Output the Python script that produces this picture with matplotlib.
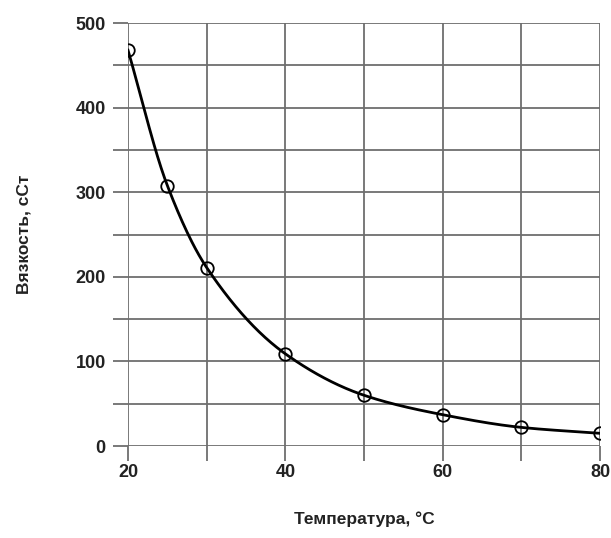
import numpy as np
import matplotlib.pyplot as plt
from matplotlib.ticker import MultipleLocator
from matplotlib import font_manager

# данные: температура и вязкость
temp = [20, 25, 30, 40, 50, 60, 70, 80]
visc = [468, 308, 211, 109, 60, 37, 22, 15]

fams = [f.name for f in font_manager.fontManager.ttflist]
fam = 'Liberation Sans Narrow' if 'Liberation Sans Narrow' in fams else 'Liberation Sans'
plt.rcParams['font.family'] = [fam, 'DejaVu Sans']


def pchip(x, y, xs):
    x = np.asarray(x, float)
    y = np.asarray(y, float)
    h = np.diff(x)
    d = np.diff(y) / h
    n = len(x)
    m = np.zeros(n)
    for k in range(1, n - 1):
        if d[k - 1] * d[k] > 0:
            w1 = 2 * h[k] + h[k - 1]
            w2 = h[k] + 2 * h[k - 1]
            m[k] = (w1 + w2) / (w1 / d[k - 1] + w2 / d[k])
    m[0] = d[0]
    m[-1] = d[-1]
    out = np.empty_like(xs)
    for i, xv in enumerate(xs):
        k = min(np.searchsorted(x, xv, side='right') - 1, n - 2)
        t = (xv - x[k]) / h[k]
        h00 = 2 * t**3 - 3 * t**2 + 1
        h10 = t**3 - 2 * t**2 + t
        h01 = -2 * t**3 + 3 * t**2
        h11 = t**3 - t**2
        out[i] = h00 * y[k] + h10 * h[k] * m[k] + h01 * y[k + 1] + h11 * h[k] * m[k + 1]
    return out


fig = plt.figure(figsize=(6.11, 5.38), dpi=100)
ax = fig.add_axes([0.2095, 0.171, 0.7725, 0.786])

xs = np.linspace(temp[0], temp[-1], 400)
ax.plot(xs, pchip(temp, visc, xs), color='black', lw=2, zorder=3)
ax.plot(temp, visc, 'o', ms=9, mfc='none', mec='black', mew=1.3, zorder=4)

ax.set_xlim(20, 80)
ax.set_ylim(0, 500)
ax.xaxis.set_major_locator(MultipleLocator(20))
ax.xaxis.set_minor_locator(MultipleLocator(10))
ax.yaxis.set_major_locator(MultipleLocator(100))
ax.yaxis.set_minor_locator(MultipleLocator(50))

ax.grid(which='both', color='#6e6e6e', lw=1.3)
for s in ax.spines.values():
    s.set_visible(False)
ax.tick_params(which='both', length=11, width=1.3, color='#6e6e6e')
ax.tick_params(axis='x', which='major', pad=2)
ax.tick_params(axis='y', which='major', pad=5)

for lab in ax.get_xticklabels() + ax.get_yticklabels():
    lab.set_fontsize(13)
    lab.set_fontweight('bold')
    lab.set_color('#222222')

ax.set_xlabel('Температура, °C', fontsize=12.5, fontweight='bold', color='#222222', labelpad=22)
ax.set_ylabel('Вязкость, сСт', fontsize=12.5, fontweight='bold', color='#222222', labelpad=32)

fig.savefig('out.png', dpi=100)
